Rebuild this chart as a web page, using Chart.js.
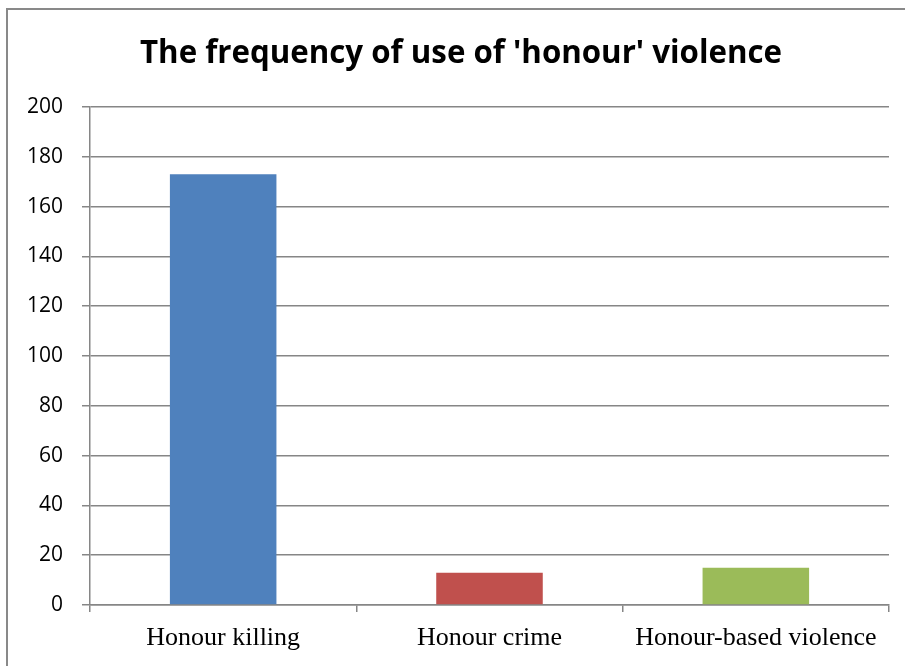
<!DOCTYPE html>
<html><head><meta charset="utf-8">
<script src="https://cdn.jsdelivr.net/npm/chart.js@4/dist/chart.umd.min.js"></script>
<style>html,body{margin:0;padding:0;background:#fff;}#wrap{width:905px;height:666px;position:relative;}</style>
</head><body><div id="wrap"><canvas id="c" width="905" height="666"></canvas></div>
<script>
const titleText = "The frequency of use of 'honour' violence";
const categories = ["Honour killing", "Honour crime", "Honour-based violence"];
const values = [173, 13, 15];
const barColors = ["#4F81BD", "#C0504D", "#9BBB59"];
const yTicks = [0, 20, 40, 60, 80, 100, 120, 140, 160, 180, 200];

const framePlugin = {
  id: 'frame',
  beforeDraw(chart) {
    const ctx = chart.ctx;
    ctx.save();
    ctx.fillStyle = '#fff';
    ctx.fillRect(0, 0, chart.width, chart.height);
    ctx.strokeStyle = '#898989';
    ctx.lineWidth = 2;
    ctx.strokeRect(7, 9, 950, 700);
    ctx.restore();
  },
  afterDraw(chart) {
    const ctx = chart.ctx;
    ctx.save();
    ctx.fillStyle = '#000';
    ctx.font = 'bold 33px "Open Sans"';
    ctx.textAlign = 'center';
    ctx.textBaseline = 'alphabetic';
    const w = ctx.measureText(titleText).width;
    const sx = 642 / w;
    ctx.translate(461, 63);
    ctx.scale(sx, 1);
    ctx.fillText(titleText, 0, 0);
    ctx.restore();
  }
};

new Chart(document.getElementById('c'), {
  type: 'bar',
  data: {
    labels: categories,
    datasets: [{
      data: values,
      backgroundColor: barColors,
      borderWidth: 0,
      categoryPercentage: 1.0,
      barPercentage: 0.4
    }]
  },
  options: {
    responsive: false,
    animation: false,
    devicePixelRatio: 1,
    layout: { padding: { top: 107, left: 10, right: 16, bottom: 0 } },
    plugins: { legend: { display: false }, tooltip: { enabled: false }, title: { display: false } },
    scales: {
      x: {
        offset: true,
        grid: { display: true, drawOnChartArea: false, offset: true, color: '#868686', lineWidth: 1.5, tickLength: 7 },
        border: { display: true, color: '#868686', width: 1.5 },
        ticks: { color: '#000', font: { family: '"Liberation Serif"', size: 26 }, padding: 11, maxRotation: 0 },
        afterFit(scale) { scale.height = 61; }
      },
      y: {
        min: 0, max: 200,
        afterBuildTicks(scale) { scale.ticks = yTicks.map(v => ({ value: v })); },
        grid: { color: '#868686', lineWidth: 1.5, tickLength: 8 },
        border: { display: true, color: '#868686', width: 1.5 },
        ticks: { color: '#000', font: { family: '"Open Sans"', size: 21 }, padding: 19 },
        afterFit(scale) { scale.width = 80; }
      }
    }
  },
  plugins: [framePlugin]
});
</script></body></html>
